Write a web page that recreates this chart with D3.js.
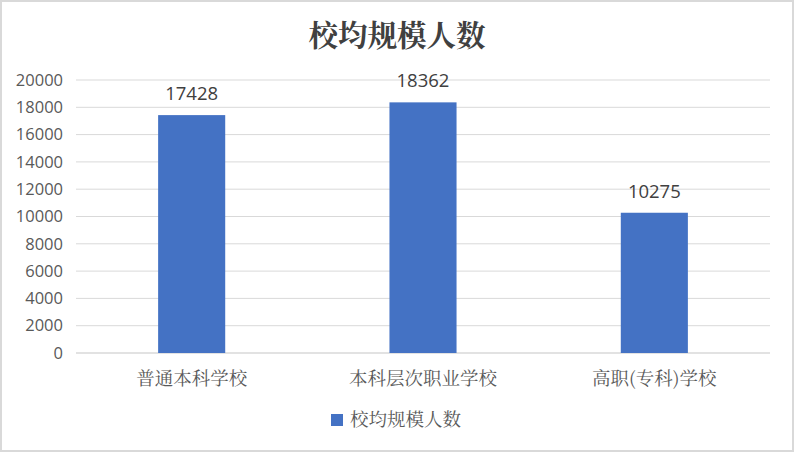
<!DOCTYPE html>
<meta charset="utf-8">
<style>
    body { margin:0; background:#fff; }
    svg { display:block; }
    text { fill:#595959; }
</style>
<body>
<script src="https://cdn.jsdelivr.net/npm/d3@7"></script>
<script>
var categories = ["普通本科学校", "本科层次职业学校", "高职(专科)学校"];
var values = [17428, 18362, 10275];
var yTicks = [0, 2000, 4000, 6000, 8000, 10000, 12000, 14000, 16000, 18000, 20000];
var seriesName = "校均规模人数";

var width = 794, height = 452;
var cjk = "'Noto Serif CJK SC', 'Noto Sans CJK SC', serif";
var num = "'Open Sans', 'Liberation Sans', sans-serif";

var svg = d3.select("body").append("svg")
    .attr("width", width)
    .attr("height", height);

// outer frame
svg.append("rect")
    .attr("x", 1).attr("y", 1)
    .attr("width", width - 2).attr("height", height - 2)
    .attr("fill", "#fff")
    .attr("stroke", "#d9d9d9")
    .attr("stroke-width", 2);

var x = d3.scaleBand()
    .domain(categories)
    .range([76, 770])
    .paddingInner(0.71)
    .paddingOuter(0.355);

var y = d3.scaleLinear()
    .domain([0, 20000])
    .range([353, 80]);

// gridlines
svg.append("g").selectAll("line")
    .data(yTicks)
    .join("line")
    .attr("x1", 76).attr("x2", 770)
    .attr("y1", d => y(d)).attr("y2", d => y(d))
    .attr("stroke", "#d9d9d9")
    .attr("stroke-width", d => d === 0 ? 1.5 : 1);

// y tick labels
svg.append("g").selectAll("text")
    .data(yTicks)
    .join("text")
    .attr("x", 63)
    .attr("y", d => y(d))
    .attr("dy", "0.35em")
    .attr("text-anchor", "end")
    .style("font", "16.5px " + num)
    .text(d => d);

// bars
svg.append("g").selectAll("rect")
    .data(values)
    .join("rect")
    .attr("x", (d, i) => x(categories[i]))
    .attr("y", d => y(d))
    .attr("width", x.bandwidth())
    .attr("height", d => y(0) - y(d))
    .attr("fill", "#4472c4");

// data labels
svg.append("g").selectAll("text")
    .data(values)
    .join("text")
    .attr("x", (d, i) => x(categories[i]) + x.bandwidth() / 2)
    .attr("y", d => y(d) - 15)
    .attr("text-anchor", "middle")
    .style("font", "18.5px " + num)
    .style("fill", "#404040")
    .text(d => d);

// category labels
svg.append("g").selectAll("text")
    .data(categories)
    .join("text")
    .attr("x", d => x(d) + x.bandwidth() / 2)
    .attr("y", 385)
    .attr("text-anchor", "middle")
    .style("font", "18.5px " + cjk)
    .text(d => d);

// title
svg.append("text")
    .attr("x", 397)
    .attr("y", 46)
    .attr("text-anchor", "middle")
    .style("font", "bold 29.5px " + cjk)
    .style("fill", "#404040")
    .text(seriesName);

// legend
var legend = svg.append("g").attr("transform", "translate(331,414)");
legend.append("rect")
    .attr("width", 12).attr("height", 12)
    .attr("fill", "#4472c4");
legend.append("text")
    .attr("x", 19).attr("y", 6)
    .attr("dy", "0.35em")
    .style("font", "18.5px " + cjk)
    .text(seriesName);
</script>
</body>
